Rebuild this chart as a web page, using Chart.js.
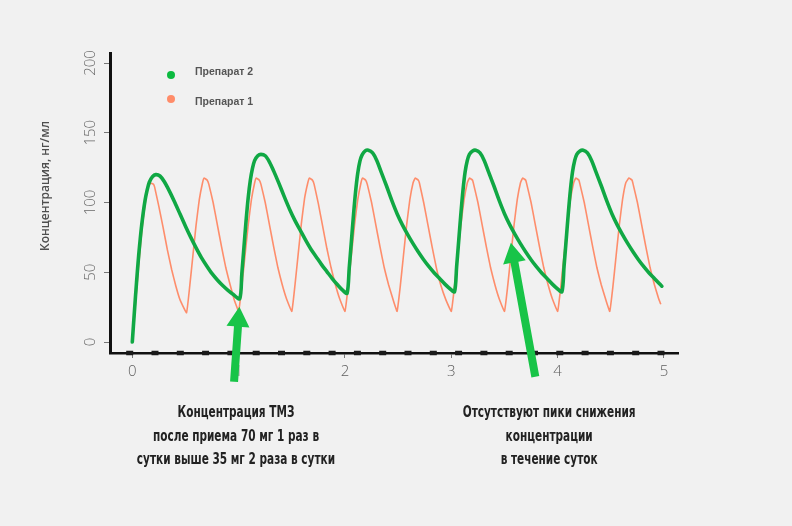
<!DOCTYPE html>
<html>
<head>
<meta charset="utf-8">
<script src="https://cdn.jsdelivr.net/npm/chart.js@4.4.1/dist/chart.umd.min.js"></script>
<style>
  html, body { margin: 0; padding: 0; background: #f1f1f1; }
  #wrap { width: 792px; height: 526px; }
</style>
</head>
<body>
<div id="wrap"><canvas id="chart"></canvas></div>
<script>
// Препарат 2 (1 раз в сутки), дни / нг/мл
const drug2Days = [
  0, 0.02, 0.04, 0.06, 0.08, 0.10, 0.12, 0.14, 0.16, 0.19, 0.22, 0.26, 0.30, 0.35, 0.40, 0.45, 0.50, 0.55, 0.60, 0.65, 0.70, 0.75, 0.80, 0.85, 0.90, 0.95,
  1.01, 1.03, 1.05, 1.07, 1.09, 1.11, 1.13, 1.15, 1.18, 1.21, 1.25, 1.29, 1.33, 1.38, 1.43, 1.48, 1.53, 1.58, 1.63, 1.68, 1.73, 1.78, 1.83, 1.88, 1.93, 1.98,
  2.02, 2.04, 2.06, 2.08, 2.10, 2.12, 2.14, 2.16, 2.19, 2.22, 2.26, 2.30, 2.34, 2.39, 2.44, 2.49, 2.54, 2.59, 2.64, 2.69, 2.74, 2.79, 2.84, 2.89, 2.94, 2.99,
  3.03, 3.05, 3.07, 3.09, 3.11, 3.13, 3.15, 3.17, 3.20, 3.23, 3.27, 3.31, 3.35, 3.40, 3.45, 3.50, 3.55, 3.60, 3.65, 3.70, 3.75, 3.80, 3.85, 3.90, 3.95, 4.00,
  4.04, 4.06, 4.08, 4.10, 4.12, 4.14, 4.16, 4.18, 4.21, 4.24, 4.28, 4.32, 4.36, 4.41, 4.46, 4.51, 4.56, 4.61, 4.66, 4.71, 4.76, 4.81, 4.86, 4.91, 4.96, 4.98
];
const drug2Conc = [
  0, 22, 43, 62, 78, 91, 101.5, 109, 114.5, 118.5, 120, 119, 115, 108, 100, 91.5, 83, 75, 67.5, 60.5, 54.5, 49, 44.5, 40.5, 37, 34,
  31, 49, 68, 87, 103.5, 116, 124.5, 130, 133.5, 134.5, 133.5, 129, 122.5, 113.5, 104, 95, 87, 80, 73, 66.5, 61, 55.5, 50.5, 45.5, 41, 37,
  35, 53, 72, 91, 108, 121, 129.5, 134, 137, 137.5, 135.5, 130, 122, 112, 101.5, 92, 84, 77, 70.5, 64.5, 59, 54, 49.5, 45.5, 41.5, 38,
  36, 54, 73, 92, 109, 122, 130, 134.5, 137, 137.5, 135.5, 130, 122, 112, 101.5, 92, 84, 77, 70.5, 64.5, 59, 54, 49.5, 45.5, 41.5, 38,
  36, 54, 73, 92, 109, 122, 130, 134.5, 137, 137.5, 135.5, 130, 122, 112, 101.5, 92, 84, 77, 70.5, 64.5, 59, 54, 49.5, 45.5, 41.5, 40
];

// Препарат 1 (2 раза в сутки)
const drug1Days = [
  0, 0.03, 0.06, 0.09, 0.12, 0.15, 0.17, 0.20, 0.21, 0.25, 0.29, 0.33, 0.37, 0.41, 0.45,
  0.51, 0.54, 0.57, 0.60, 0.63, 0.66, 0.675, 0.705, 0.72, 0.76, 0.80, 0.84, 0.88, 0.92, 0.96,
  1.00, 1.03, 1.06, 1.09, 1.12, 1.15, 1.165, 1.195, 1.21, 1.25, 1.29, 1.33, 1.37, 1.41, 1.45,
  1.50, 1.53, 1.56, 1.59, 1.62, 1.65, 1.665, 1.695, 1.71, 1.75, 1.79, 1.83, 1.87, 1.91, 1.95,
  2.00, 2.03, 2.06, 2.09, 2.12, 2.15, 2.165, 2.195, 2.21, 2.25, 2.29, 2.33, 2.37, 2.41, 2.45,
  2.49, 2.52, 2.55, 2.58, 2.61, 2.64, 2.66, 2.69, 2.70, 2.74, 2.78, 2.82, 2.86, 2.90, 2.95,
  3.00, 3.03, 3.06, 3.09, 3.12, 3.15, 3.17, 3.20, 3.21, 3.25, 3.29, 3.33, 3.37, 3.41, 3.45,
  3.50, 3.53, 3.56, 3.59, 3.62, 3.65, 3.67, 3.70, 3.71, 3.75, 3.79, 3.83, 3.87, 3.91, 3.95,
  4.00, 4.03, 4.06, 4.09, 4.12, 4.15, 4.17, 4.20, 4.21, 4.25, 4.29, 4.33, 4.37, 4.41, 4.45,
  4.49, 4.52, 4.55, 4.58, 4.61, 4.64, 4.67, 4.70, 4.71, 4.75, 4.79, 4.83, 4.87, 4.91, 4.95, 4.97
];
const drug1Conc = [
  0, 28, 55, 80, 99, 111, 114, 113, 111, 97, 82, 66, 52, 40, 30,
  21, 40, 62, 84, 102, 114, 117.5, 116, 113, 100, 84, 68, 53, 41, 30,
  22, 40, 62, 84, 102, 114, 117.5, 116, 113, 100, 84, 68, 53, 41, 31,
  22, 41, 63, 85, 103, 114, 117.5, 116, 113, 99, 83, 67, 53, 41, 31,
  22, 40, 62, 84, 102, 114, 117.5, 116, 113, 100, 84, 68, 53, 41, 31,
  22, 40, 62, 84, 102, 114, 117.5, 116, 114, 100, 84, 68, 53, 41, 30,
  22, 40, 62, 84, 102, 114, 117.5, 116, 113, 100, 84, 68, 53, 41, 31,
  22, 40, 62, 84, 102, 114, 117.5, 116, 113, 100, 84, 68, 53, 41, 31,
  22, 40, 62, 84, 102, 114, 117.5, 116, 113, 100, 84, 68, 53, 41, 31,
  22, 40, 62, 84, 102, 114, 117.5, 116, 113, 100, 84, 68, 53, 41, 31, 27
];

const seriesLabels = ["Препарат 2", "Препарат 1"];
const xTicks = [0, 1, 2, 3, 4, 5];
const yTicks = [0, 50, 100, 150, 200];
const yTitle = "Концентрация, нг/мл";

// стрелки: хвост -> острие, в единицах осей
const arrowFrom = [[0.957, -28.5], [3.79, -24.9]];
const arrowTo = [[1.007, 25.3], [3.56, 71.2]];
const noteX = [0.975, 3.92];
const noteLines = [
  ["Концентрация ТМЗ", "после приема 70 мг 1 раз в", "сутки выше 35 мг 2 раза в сутки"],
  ["Отсутствуют пики снижения", "концентрации", "в течение суток"]
];

const GREEN = "rgb(16,168,68)";
const ORANGE = "rgba(255,130,92,0.9)";
const ARROW = "rgb(24,196,72)";

function drawArrow(ctx, x0, y0, x1, y1) {
  const ang = Math.atan2(y1 - y0, x1 - x0);
  const len = Math.hypot(x1 - x0, y1 - y0);
  const head = 20, hw = 11.5, sw = 4;
  ctx.save();
  ctx.translate(x0, y0);
  ctx.rotate(ang);
  ctx.beginPath();
  ctx.moveTo(0, -sw);
  ctx.lineTo(len - head, -sw);
  ctx.lineTo(len - head, -hw);
  ctx.lineTo(len, 0);
  ctx.lineTo(len - head, hw);
  ctx.lineTo(len - head, sw);
  ctx.lineTo(0, sw);
  ctx.closePath();
  ctx.fillStyle = ARROW;
  ctx.fill();
  ctx.restore();
}

const extras = {
  id: "extras",
  afterDraw(chart) {
    const { ctx, chartArea: a, scales: { x, y } } = chart;

    // толстые штрихи поверх оси X
    ctx.save();
    ctx.strokeStyle = "#1a1a1a";
    ctx.lineWidth = 4.5;
    ctx.setLineDash([7, 18.3]);
    ctx.lineDashOffset = 9.1;
    ctx.beginPath();
    ctx.moveTo(a.left, a.bottom);
    ctx.lineTo(a.right, a.bottom);
    ctx.stroke();
    ctx.restore();

    // повернутые подписи оси Y
    ctx.save();
    ctx.fillStyle = "#6a6a6a";
    ctx.font = "300 15px 'Open Sans', sans-serif";
    ctx.textAlign = "center";
    ctx.textBaseline = "middle";
    yTicks.forEach(v => {
      ctx.save();
      ctx.translate(a.left - 19, y.getPixelForValue(v));
      ctx.rotate(-Math.PI / 2);
      ctx.fillText(String(v), 0, 0);
      ctx.restore();
    });
    // заголовок оси Y
    ctx.fillStyle = "#4f4f4f";
    ctx.font = "600 12px 'Open Sans', sans-serif";
    ctx.translate(46, a.top + 133);
    ctx.rotate(-Math.PI / 2);
    ctx.fillText(yTitle, 0, 0);
    ctx.restore();

    // легенда
    ctx.save();
    const ds = chart.data.datasets;
    const dotY = [a.top + 22, a.top + 46];
    const txtY = [a.top + 19, a.top + 49];
    ds.forEach((d, i) => {
      ctx.beginPath();
      ctx.arc(a.left + 61, dotY[i], 4, 0, Math.PI * 2);
      ctx.fillStyle = i === 0 ? "rgb(12,186,64)" : "rgb(255,140,105)";
      ctx.fill();
      ctx.fillStyle = "#555";
      ctx.font = "bold 10.5px 'Liberation Sans', Arial, sans-serif";
      ctx.textBaseline = "middle";
      ctx.fillText(d.label, a.left + 85, txtY[i]);
    });
    ctx.restore();

    // стрелки
    arrowFrom.forEach((f, i) => {
      const t = arrowTo[i];
      drawArrow(ctx, x.getPixelForValue(f[0]), y.getPixelForValue(f[1]),
        x.getPixelForValue(t[0]), y.getPixelForValue(t[1]));
    });

    // подписи под графиком (узкий шрифт)
    ctx.save();
    ctx.fillStyle = "#222";
    ctx.font = "bold 15.5px 'DejaVu Sans Condensed', 'DejaVu Sans', sans-serif";
    ctx.textAlign = "center";
    ctx.textBaseline = "middle";
    const sx = 0.755;
    noteLines.forEach((lines, i) => {
      const cx = x.getPixelForValue(noteX[i]);
      lines.forEach((s, j) => {
        ctx.save();
        ctx.translate(cx, a.bottom + 60 + j * 23.5);
        ctx.scale(sx, 1);
        ctx.fillText(s, 0, 0);
        ctx.restore();
      });
    });
    ctx.restore();
  }
};

const toPoints = (xs, ys) => xs.map((v, i) => ({ x: v, y: ys[i] }));

new Chart(document.getElementById("chart"), {
  type: "line",
  data: {
    datasets: [
      {
        label: seriesLabels[0],
        data: toPoints(drug2Days, drug2Conc),
        borderColor: GREEN,
        borderWidth: 3.6,
        pointRadius: 0,
        tension: 0.3,
        borderJoinStyle: "round",
        borderCapStyle: "round"
      },
      {
        label: seriesLabels[1],
        data: toPoints(drug1Days, drug1Conc),
        borderColor: ORANGE,
        borderWidth: 1.6,
        pointRadius: 0,
        tension: 0.1
      }
    ]
  },
  options: {
    responsive: true,
    maintainAspectRatio: false,
    animation: false,
    layout: { padding: { left: 0, top: 53, right: 114, bottom: 0 } },
    plugins: {
      legend: { display: false },
      tooltip: { enabled: false }
    },
    scales: {
      x: {
        type: "linear",
        min: -0.2097,
        max: 5.1317,
        afterBuildTicks: s => { s.ticks = xTicks.map(v => ({ value: v })); },
        afterFit: s => { s.height = 173; },
        border: { display: true, color: "#111", width: 2.5 },
        grid: { drawOnChartArea: false, drawTicks: true, tickLength: 5, color: "#777" },
        ticks: { color: "#5e5e5e", font: { family: "'Open Sans', sans-serif", size: 15, weight: "300" }, padding: 5, maxRotation: 0 }
      },
      y: {
        type: "linear",
        min: -7.885,
        max: 207.17,
        afterBuildTicks: s => { s.ticks = yTicks.map(v => ({ value: v })); },
        afterFit: s => { s.width = 110; },
        border: { display: true, color: "#111", width: 3 },
        grid: { drawOnChartArea: false, drawTicks: true, tickLength: 6, color: "#777" },
        ticks: { color: "rgba(0,0,0,0)", padding: 4 }
      }
    }
  },
  plugins: [extras]
});
</script>
</body>
</html>
